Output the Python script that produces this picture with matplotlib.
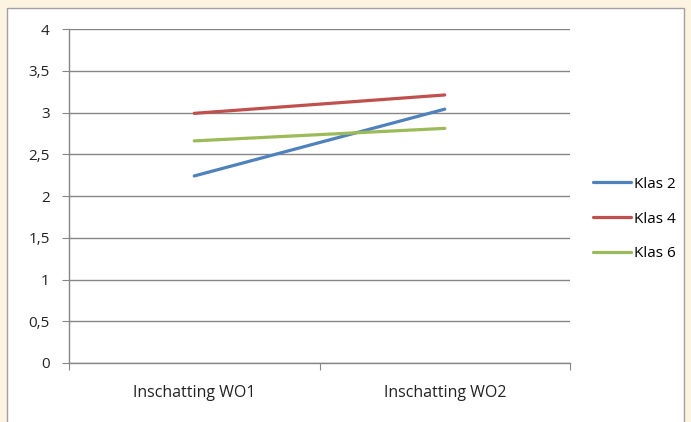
import matplotlib.pyplot as plt
from matplotlib.patches import Rectangle

categories = ["Inschatting WO1", "Inschatting WO2"]
klas2 = [2.24, 3.04]
klas4 = [2.99, 3.21]
klas6 = [2.66, 2.81]
series_names = ["Klas 2", "Klas 4", "Klas 6"]
y_ticks = [0, 0.5, 1, 1.5, 2, 2.5, 3, 3.5, 4]
y_labels = ["0", "0,5", "1", "1,5", "2", "2,5", "3", "3,5", "4"]

plt.rcParams['font.family'] = ['Open Sans', 'DejaVu Sans']

fig = plt.figure(figsize=(6.91, 4.22), dpi=100)
fig.patch.set_facecolor("#FDF3E1")
# white chart panel, kept behind the axes
fig.patches.append(Rectangle((7 / 691, -0.05), 677 / 691, 1 - 8 / 422 + 0.05,
                             transform=fig.transFigure, facecolor="white",
                             edgecolor="#A0A0A0", linewidth=1, zorder=-5))

ax = fig.add_axes([69 / 691, 59 / 422, 501 / 691, 334 / 422])
ax.set_facecolor("white")

x = [0.5, 1.5]
colors = ["#4F81BD", "#C0504D", "#9BBB59"]
for vals, name, c in zip([klas2, klas4, klas6], series_names, colors):
    ax.plot(x, vals, color=c, linewidth=2.3, label=name, solid_capstyle="round")

ax.set_xlim(0, 2)
ax.set_ylim(0, 4)
ax.set_yticks(y_ticks)
ax.set_yticklabels(y_labels)
ax.set_xticks([0, 1, 2])
ax.set_xticklabels([])
ax.set_xticks(x, minor=True)
ax.set_xticklabels(categories, minor=True)
ax.tick_params(axis="x", which="minor", length=0, pad=16, labelsize=11.5, colors="#222222")
ax.tick_params(axis="x", which="major", length=5, color="#868686", direction="out")
ax.tick_params(axis="y", length=5, color="#868686", labelsize=11, labelcolor="#222222", pad=9)

ax.grid(axis="y", color="#868686", linewidth=1)
ax.set_axisbelow(True)
for s in ["top", "right"]:
    ax.spines[s].set_visible(False)
for s in ["left", "bottom"]:
    ax.spines[s].set_color("#868686")
    ax.spines[s].set_linewidth(1)

fig.legend(loc="center left", bbox_to_anchor=(588 / 691, (422 - 219) / 422), frameon=False,
           fontsize=11, handlelength=2.5, handletextpad=0.2, labelspacing=1.3,
           borderaxespad=0, borderpad=0.3)

fig.savefig("out.png", dpi=100, facecolor=fig.get_facecolor())
